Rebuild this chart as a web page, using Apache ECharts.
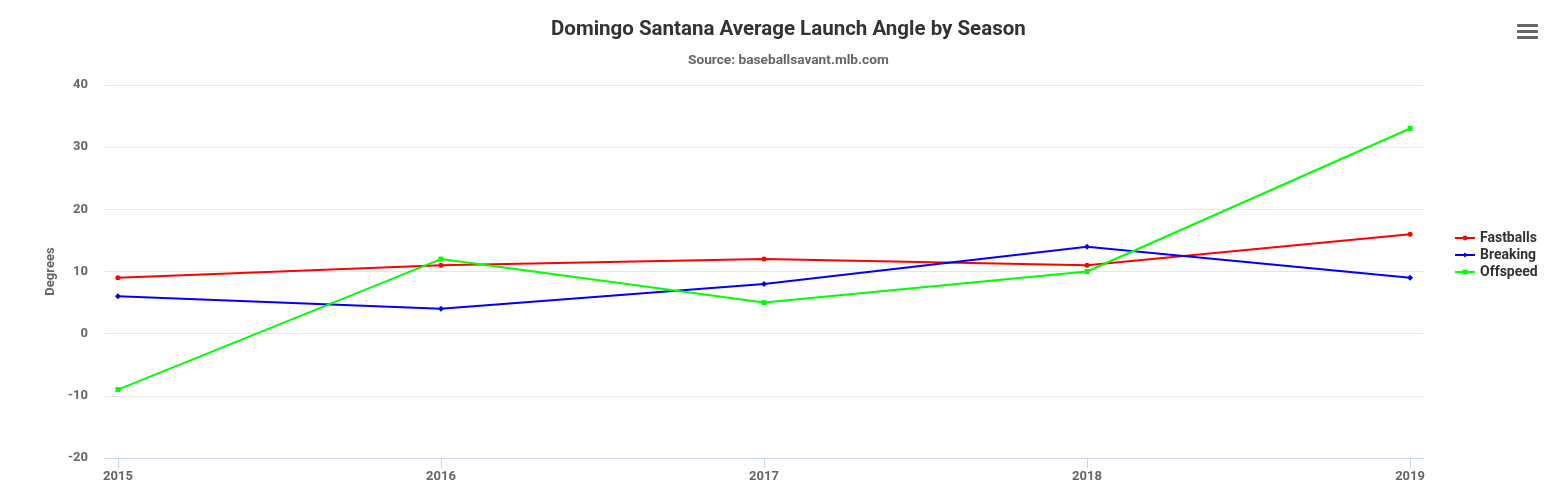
<!DOCTYPE html>
<html><head><meta charset="utf-8">
<script src="https://cdn.jsdelivr.net/npm/echarts@6/dist/echarts.min.js"></script>
<style>html,body{margin:0;padding:0;background:#fff}#c{width:1550px;height:504px}</style>
</head><body><div id="c"></div>
<script>
const seasons = [2015, 2016, 2017, 2018, 2019];
const fastballs = [9, 11, 12, 11, 16];
const breaking = [6, 4, 8, 14, 9];
const offspeed = [-9, 12, 5, 10, 33];
const yTicks = [-20, -10, 0, 10, 20, 30, 40];

const FONT = 'Roboto, sans-serif';
const chart = echarts.init(document.getElementById('c'));
function mk(name, vals, color, symbol, size) {
  return {
    name, type: 'line', data: seasons.map((s, i) => [s, vals[i]]),
    symbol, symbolSize: size, showSymbol: true,
    lineStyle: { color, width: 2 }, itemStyle: { color },
    emphasis: { disabled: true }
  };
}
chart.setOption({
  animation: false,
  title: [{
    text: 'Domingo Santana Average Launch Angle by Season',
    left: 551, top: 19, padding: 0,
    textStyle: { fontFamily: FONT, fontWeight: 'bold', fontSize: 20.5, color: '#333' }
  }, {
    text: 'Source: baseballsavant.mlb.com',
    left: 688, top: 54, padding: 0,
    textStyle: { fontFamily: FONT, fontWeight: 'bold', fontSize: 13.7, color: '#666' }
  }],
  legend: {
    orient: 'vertical', left: 1449, top: 226, itemGap: 3, itemWidth: 20, itemHeight: 6,
    textStyle: { fontFamily: FONT, fontWeight: 'bold', fontSize: 14, color: '#333', padding: [0, 0, 0, 0] },
    data: ['Fastballs', 'Breaking', 'Offspeed']
  },
  grid: { left: 105, right: 127, top: 85, bottom: 46 },
  xAxis: {
    type: 'value', min: 2014.96, max: 2019.04,
    axisLine: { show: true, onZero: false, lineStyle: { color: '#ccd6eb', width: 1 } },
    axisTick: { show: true, customValues: seasons, length: 10, lineStyle: { color: '#ccd6eb' } },
    axisLabel: { customValues: seasons, margin: 12, color: '#666', fontFamily: FONT, fontWeight: 'bold', fontSize: 13, formatter: v => String(v) },
    splitLine: { show: false }
  },
  yAxis: {
    type: 'value', min: -20, max: 40, interval: 10,
    name: 'Degrees', nameLocation: 'middle', nameGap: 48, nameRotate: 90,
    nameTextStyle: { fontFamily: FONT, fontWeight: 'bold', fontSize: 13, color: '#666' },
    axisLine: { show: false }, axisTick: { show: false },
    axisLabel: { margin: 17, color: '#666', fontFamily: FONT, fontWeight: 'bold', fontSize: 13 },
    splitLine: { lineStyle: { color: '#e6e6e6' } }
  },
  series: [
    mk('Fastballs', fastballs, '#ff0000', 'circle', 5),
    mk('Breaking', breaking, '#0000ff', 'diamond', 6),
    mk('Offspeed', offspeed, '#00ff00', 'rect', 5)
  ],
  graphic: [
    { type: 'rect', shape: { x: 1517, y: 24, width: 21, height: 3, r: 1 }, style: { fill: '#666' } },
    { type: 'rect', shape: { x: 1517, y: 30, width: 21, height: 3, r: 1 }, style: { fill: '#666' } },
    { type: 'rect', shape: { x: 1517, y: 36, width: 21, height: 3, r: 1 }, style: { fill: '#666' } }
  ]
});
</script></body></html>
